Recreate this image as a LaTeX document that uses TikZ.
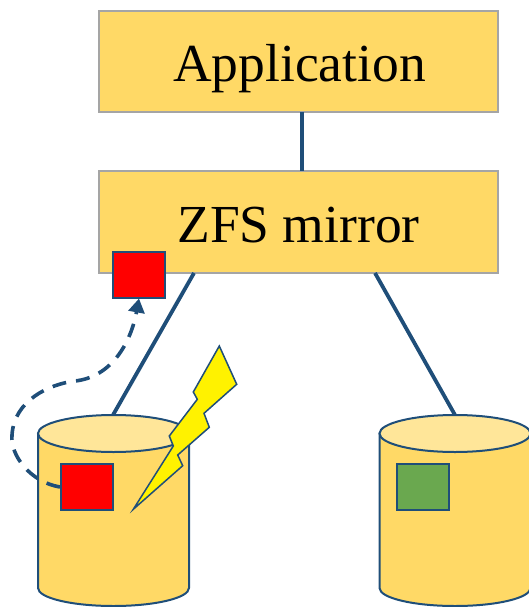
\documentclass[tikz,border=0pt]{standalone}
\usepackage{fontspec}
\setmainfont{Liberation Serif}
\usetikzlibrary{arrows.meta}
\definecolor{boxfill}{HTML}{FFD966}
\definecolor{boxline}{HTML}{A5A5A5}
\definecolor{navy}{HTML}{1F4E79}
\definecolor{topfill}{HTML}{FFE699}
\definecolor{okgreen}{HTML}{6AA84F}
\tikzset{
  layerbox/.style={draw=boxline,fill=boxfill,line width=1.8pt,minimum width=399pt,minimum height=101.5pt,inner sep=0pt},
  label/.style={font=\fontsize{53.5}{53.5}\selectfont,anchor=base,inner sep=0pt},
  link/.style={draw=navy,line width=3.8pt},
  blockbox/.style={draw=navy,line width=2pt,minimum width=52pt,minimum height=46pt,inner sep=0pt},
  cylbody/.style={draw=navy,line width=2pt,fill=boxfill},
  cyltop/.style={draw=navy,line width=2pt,fill=topfill},
}
\begin{document}
\begin{tikzpicture}[x=1pt,y=-1pt]
\useasboundingbox (0,0) rectangle (529,607);
\node[layerbox] (app) at (298.5,61.5) {};
\node[layerbox] (zfs) at (298.5,222) {};
\node[label] (apptext) at (299.5,82) {Application};
\node[label] (zfstext) at (298.5,242) {ZFS mirror};
\coordinate (appout) at (302,112);
\coordinate (zfsin) at (302,171);
\coordinate (zfsl) at (194,273);
\coordinate (zfsr) at (375,273);
\coordinate (diskl) at (113,415);
\coordinate (diskr) at (455,415);
\draw[link] (appout) -- (zfsin);
\draw[link] (zfsl) -- (diskl);
\draw[link] (zfsr) -- (diskr);
% left disk
\draw[cylbody] (38,433.5) -- (38,588) arc[start angle=180,end angle=0,x radius=75.5,y radius=18] -- (189,433.5) -- cycle;
\draw[cyltop] (113.5,433.5) ellipse[x radius=75.5,y radius=18.5];
% right disk
\draw[cylbody] (379.5,433.5) -- (379.5,588) arc[start angle=180,end angle=0,x radius=75.5,y radius=18] -- (530.5,433.5) -- cycle;
\draw[cyltop] (455,433.5) ellipse[x radius=75.5,y radius=18.5];
% blocks
\node[blockbox,fill=red] (cached) at (139,274.5) {};
\node[blockbox,fill=red] (bad) at (87,487) {};
\node[blockbox,fill=okgreen] (good) at (423,487) {};
% bolt
\draw[draw=navy,line width=1.5pt,fill=yellow,line join=miter]
  (219.3,346) -- (236.7,384.3) -- (204,413.3) -- (209.3,427.3) -- (177.7,455) -- (182.7,465.7)
  -- (133.3,509.3) -- (173.3,446) -- (169.3,436) -- (197.3,399.3) -- (193.3,392) -- cycle;
% dashed repair path
\draw[draw=navy,line width=3.6pt,dash pattern=on 14pt off 10pt,-{Triangle[length=14pt,width=16pt]}]
  (bad.west) .. controls (30,482) and (10,455) .. (12,435)
  .. controls (14,400) and (50,384) .. (75,381)
  .. controls (112,377) and (131,342) .. (cached.south);
\end{tikzpicture}
\end{document}
